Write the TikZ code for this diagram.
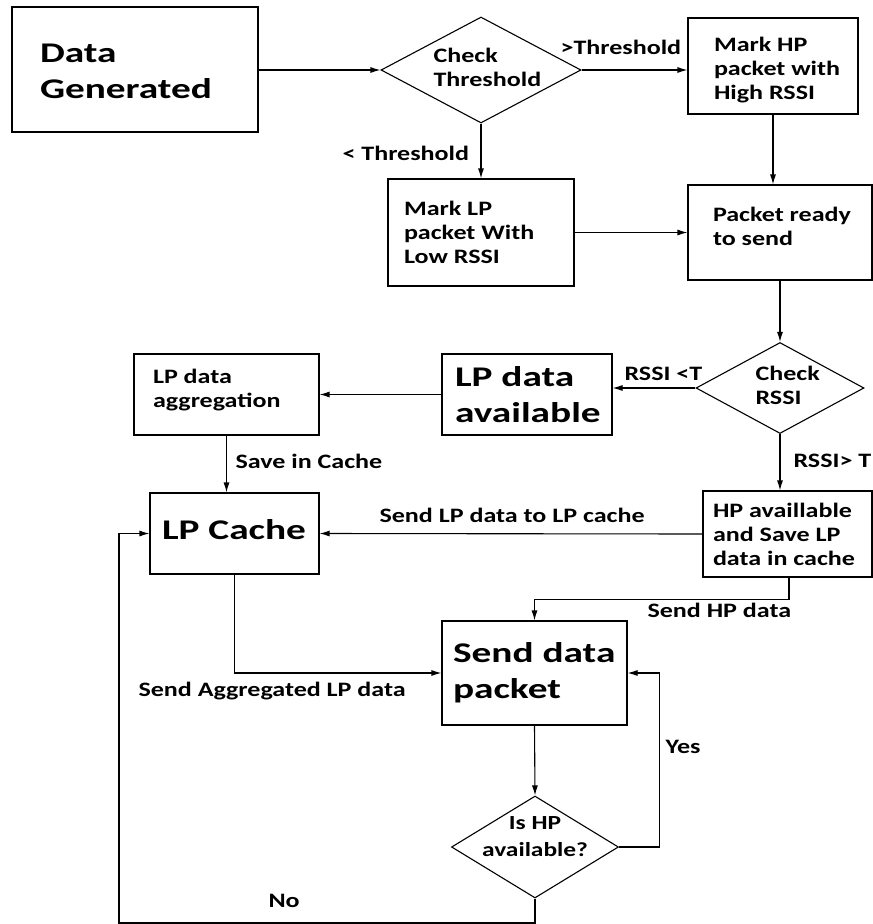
\documentclass[tikz,border=0pt]{standalone}
\usepackage{fontspec}
\setmainfont{Carlito}
\newfontfamily\flowfont[FakeStretch=1.27]{Carlito}
\newfontfamily\flowbigfont[FakeStretch=1.38]{Carlito}
\usetikzlibrary{shapes.geometric,arrows.meta}
\begin{document}
\begin{tikzpicture}[x=1pt,y=-1pt,
  line width=1.1pt,
  >={Latex[length=10pt,width=6pt]},
  txt/.style={font=\flowfont\bfseries\fontsize{20.5}{24}\selectfont, inner sep=0pt, align=left, anchor=west},
  bigtxt/.style={font=\flowbigfont\bfseries\fontsize{28.5}{36}\selectfont, inner sep=0pt, align=left, anchor=west},
  lbl/.style={font=\flowfont\bfseries\fontsize{20.5}{24}\selectfont, inner sep=0pt, anchor=base west},
  box/.style={draw, rectangle, inner sep=0pt},
  decision/.style={draw, diamond, inner sep=0pt},
  flow/.style={->}]
\useasboundingbox (0,0) rectangle (873,924);

% process boxes
\node[box, minimum width=246pt, minimum height=125pt] (dg)  at (135,69.5)   {};
\node[box, minimum width=170pt, minimum height=96pt]  (hp)  at (773,66)     {};
\node[box, minimum width=186pt, minimum height=107pt] (lp)  at (481,232.5)  {};
\node[box, minimum width=184pt, minimum height=95pt]  (pr)  at (780,232.5)  {};
\node[box, minimum width=170pt, minimum height=81pt]  (lpa) at (527,394.5)  {};
\node[box, minimum width=185pt, minimum height=81pt]  (agg) at (226.5,394.5){};
\node[box, minimum width=169pt, minimum height=81pt]  (lpc) at (234.5,533.5){};
\node[box, minimum width=169pt, minimum height=86pt]  (hpa) at (787.5,534)  {};
\node[box, minimum width=185pt, minimum height=104pt] (sdp) at (534.5,673)  {};

% decisions
\node[decision, minimum width=200pt, minimum height=106pt] (ct)  at (481,70)  {};
\node[decision, minimum width=168pt, minimum height=91pt]  (crs) at (780,388) {};
\node[decision, minimum width=167pt, minimum height=102pt] (ihp) at (535,847) {};

% texts inside the shapes
\node[bigtxt, yshift=-2.3pt] (dgt)  at ([xshift=28pt]dg.west)  {Data\\Generated};
\node[txt, yshift=2.2pt]     (ctt)  at ([xshift=-48pt]ct.center) {Check\\Threshold};
\node[txt, yshift=-4pt]      (hpt)  at ([xshift=26pt]hp.west)  {Mark HP\\packet with\\High RSSI};
\node[txt]                   (lpt)  at ([xshift=16pt]lp.west)  {Mark LP\\packet With\\Low RSSI};
\node[txt, yshift=6.2pt]     (prt)  at ([xshift=25pt]pr.west)  {Packet ready\\to send};
\node[txt, yshift=2.2pt]     (crst) at ([xshift=-25pt]crs.center) {Check\\RSSI};
\node[bigtxt]                (lpat) at ([xshift=13pt]lpa.west) {LP data\\available};
\node[txt, yshift=4pt]       (aggt) at ([xshift=19pt]agg.west) {LP data\\aggregation};
\node[bigtxt, yshift=3.5pt]  (lpct) at ([xshift=12pt]lpc.west) {LP Cache};
\node[txt]                   (hpat) at ([xshift=10pt]hpa.west) {HP availlable\\and Save LP\\data in cache};
\node[bigtxt]                (sdpt) at ([xshift=11pt]sdp.west) {Send data\\packet};
\node[font=\flowfont\bfseries\fontsize{20}{27}\selectfont, inner sep=0pt, align=center, yshift=10pt]
                             (ihpt) at (ihp.center) {Is HP\\available?};

% connector labels
\node[lbl] (l1)  at (560,54)  {>Threshold};
\node[lbl] (l2)  at (342,160) {< Threshold};
\node[lbl] (l3)  at (624,380) {RSSI <T};
\node[lbl] (l4)  at (793,467) {RSSI> T};
\node[lbl] (l5)  at (235,468) {Save in Cache};
\node[lbl] (l6)  at (379,522) {Send LP data to LP cache};
\node[lbl] (l7)  at (647,617) {Send HP data};
\node[lbl] (l8)  at (138,696) {Send Aggregated LP data};
\node[lbl] (l9)  at (665,753) {Yes};
\node[lbl] (l10) at (268,907) {No};

\coordinate (nocorner) at (119,923);

% connectors
\draw[flow] (dg.east |- ct.west) -- (ct.west);
\draw[flow] (ct.east) -- (ct.east -| hp.west);
\draw[flow] (ct.south) -- (lp.north);
\draw[flow] (hp.south) -- (hp.south |- pr.north);
\draw[flow] (lp.east) -- (pr.west);
\draw[flow] (pr.south) -- (crs.north);
\draw[flow] (crs.west) -- (crs.west -| lpa.east);
\draw[flow] (lpa.west) -- (agg.east);
\draw[flow] (agg.south) -- (agg.south |- lpc.north);
\draw[flow] (crs.south) -- (crs.south |- hpa.north);
\draw[flow] (hpa.west) -- (lpc.east);
\draw[flow] ([xshift=1.5pt]hpa.south) -- ++(0,22) -| (sdp.north);
\draw[flow] (lpc.south) |- (sdp.west);
\draw[flow] (sdp.south) -- (ihp.north);
\draw[flow] (ihp.east) -- ++(40,0) |- (sdp.east);
\draw[flow] (ihp.south) |- (nocorner) |- (lpc.west);
\end{tikzpicture}
\end{document}
